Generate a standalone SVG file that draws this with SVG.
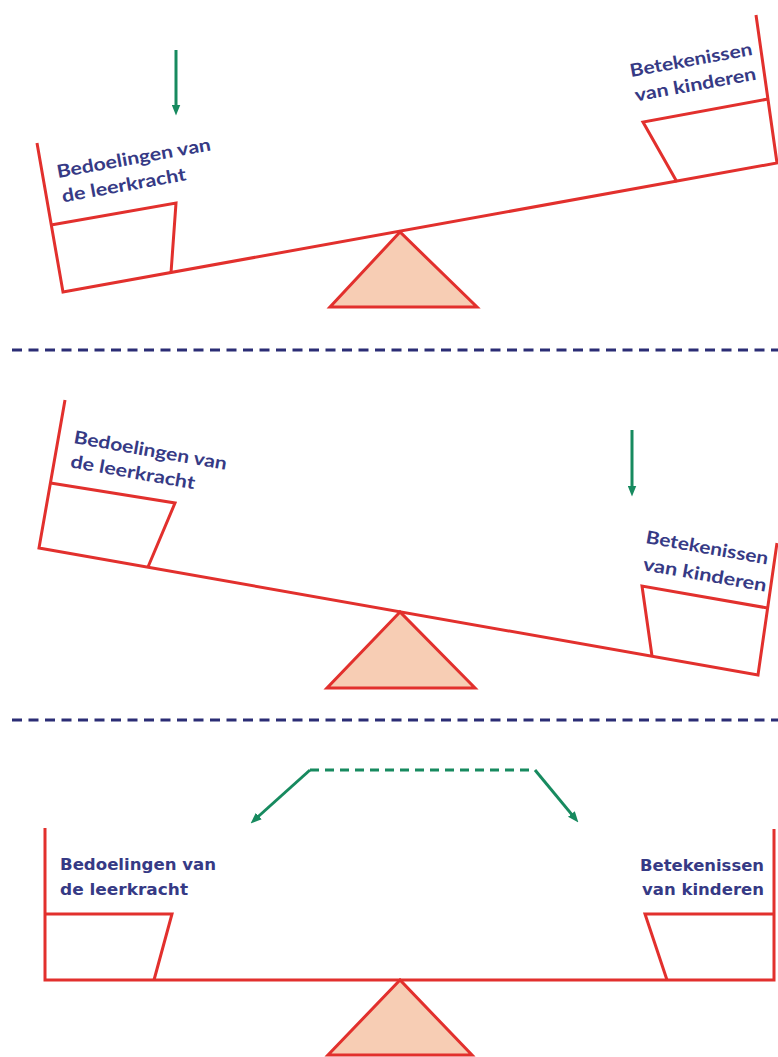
<svg xmlns="http://www.w3.org/2000/svg" width="778" height="1057" viewBox="0 0 778 1057">
  <style>
    .red { fill: none; stroke: #E2302D; stroke-width: 3; stroke-linejoin: miter; }
    .tri { fill: #F7CDB4; stroke: #E2302D; stroke-width: 3; stroke-linejoin: miter; }
    .sep { stroke: #2B2D75; stroke-width: 3; stroke-dasharray: 10 6.5; fill: none; }
    .garrow { stroke: #178A5F; stroke-width: 3; fill: none; }
    .gdash { stroke: #178A5F; stroke-width: 3; fill: none; stroke-dasharray: 9 6; }
    .lbl { font-family: "Lato", "Open Sans", "Liberation Sans", sans-serif; font-weight: bold; font-size: 18px; fill: #363A85; }
    .lbl3 { font-family: "DejaVu Sans", "Liberation Sans", sans-serif; font-weight: bold; font-size: 16px; fill: #363A85; }
  </style>
  <defs>
    <marker id="ah" viewBox="0 0 10 8" refX="4" refY="4" markerWidth="11" markerHeight="9" markerUnits="userSpaceOnUse" orient="auto">
      <path d="M0,0 L10,4 L0,8 z" fill="#178A5F"/>
    </marker>
  </defs>
  <rect width="778" height="1057" fill="#FFFFFF"/>

  <!-- Panel 1 -->
  <g id="panel1-fulcrum"><polygon class="tri" points="400,232 330,307 477,307"/></g>
  <g id="panel1-beam"><path class="red" d="M37,143 L63,292 L777,163 L756,15"/></g>
  <g id="panel1-left">
    <path class="red" d="M51,225 L176,203 L171,273"/>
    <g transform="translate(58,178) rotate(-10.24)">
      <text class="lbl" x="0" y="0" textLength="156" lengthAdjust="spacingAndGlyphs">Bedoelingen van</text>
      <text class="lbl" x="0.5" y="25" textLength="126" lengthAdjust="spacingAndGlyphs">de leerkracht</text>
    </g>
  </g>
  <g id="panel1-right">
    <path class="red" d="M768,99 L643,122 L677,182"/>
    <g transform="translate(631,77) rotate(-10.24)">
      <text class="lbl" x="0" y="0" textLength="124" lengthAdjust="spacingAndGlyphs">Betekenissen</text>
      <text class="lbl" x="0.5" y="25" textLength="123" lengthAdjust="spacingAndGlyphs">van kinderen</text>
    </g>
  </g>

  <!-- Separators -->
  <g id="separators">
    <line class="sep" x1="12" y1="350" x2="778" y2="350"/>
    <line class="sep" x1="12" y1="720" x2="778" y2="720"/>
  </g>

  <!-- Panel 2 -->
  <g id="panel2-fulcrum"><polygon class="tri" points="400,612 327,688 475,688"/></g>
  <g id="panel2-beam"><path class="red" d="M65,400 L39,548 L758,675 L777,543"/></g>
  <g id="panel2-left">
    <path class="red" d="M50.5,483 L175,503 L148,567"/>
    <g transform="translate(73,443) rotate(10)">
      <text class="lbl" x="0" y="0" textLength="155" lengthAdjust="spacingAndGlyphs">Bedoelingen van</text>
      <text class="lbl" x="1" y="24.5" textLength="126" lengthAdjust="spacingAndGlyphs">de leerkracht</text>
    </g>
  </g>
  <g id="panel2-right">
    <path class="red" d="M767.5,608 L642,586 L652,656"/>
    <g transform="translate(645,543) rotate(10)">
      <text class="lbl" x="0" y="0" textLength="124" lengthAdjust="spacingAndGlyphs">Betekenissen</text>
      <text class="lbl" x="2" y="27" textLength="125" lengthAdjust="spacingAndGlyphs">van kinderen</text>
    </g>
  </g>

  <!-- Panel 3 -->
  <g id="panel3-fulcrum"><polygon class="tri" points="400,980 328,1055 472,1055"/></g>
  <g id="panel3-beam"><path class="red" d="M45,828 L45,980 L774,980 L774,829"/></g>
  <g id="panel3-left">
    <path class="red" d="M45,914 L172,914 L154,980"/>
    <text class="lbl3" x="60" y="870" textLength="156" lengthAdjust="spacingAndGlyphs">Bedoelingen van</text>
    <text class="lbl3" x="60" y="895" textLength="128" lengthAdjust="spacingAndGlyphs">de leerkracht</text>
  </g>
  <g id="panel3-right">
    <path class="red" d="M774,914 L645,914 L667,980"/>
    <text class="lbl3" x="640" y="871" textLength="124" lengthAdjust="spacingAndGlyphs">Betekenissen</text>
    <text class="lbl3" x="642" y="895" textLength="122" lengthAdjust="spacingAndGlyphs">van kinderen</text>
  </g>

  <!-- Connectors (arrows) -->
  <g id="connectors">
    <line class="garrow" x1="176" y1="50" x2="176" y2="109" marker-end="url(#ah)"/>
    <line class="garrow" x1="632" y1="430" x2="632" y2="490" marker-end="url(#ah)"/>
    <line class="gdash" x1="310" y1="770" x2="535" y2="770"/>
    <line class="garrow" x1="310" y1="770" x2="255.5" y2="819" marker-end="url(#ah)"/>
    <line class="garrow" x1="535" y1="770" x2="574.2" y2="817.4" marker-end="url(#ah)"/>
  </g>
</svg>
